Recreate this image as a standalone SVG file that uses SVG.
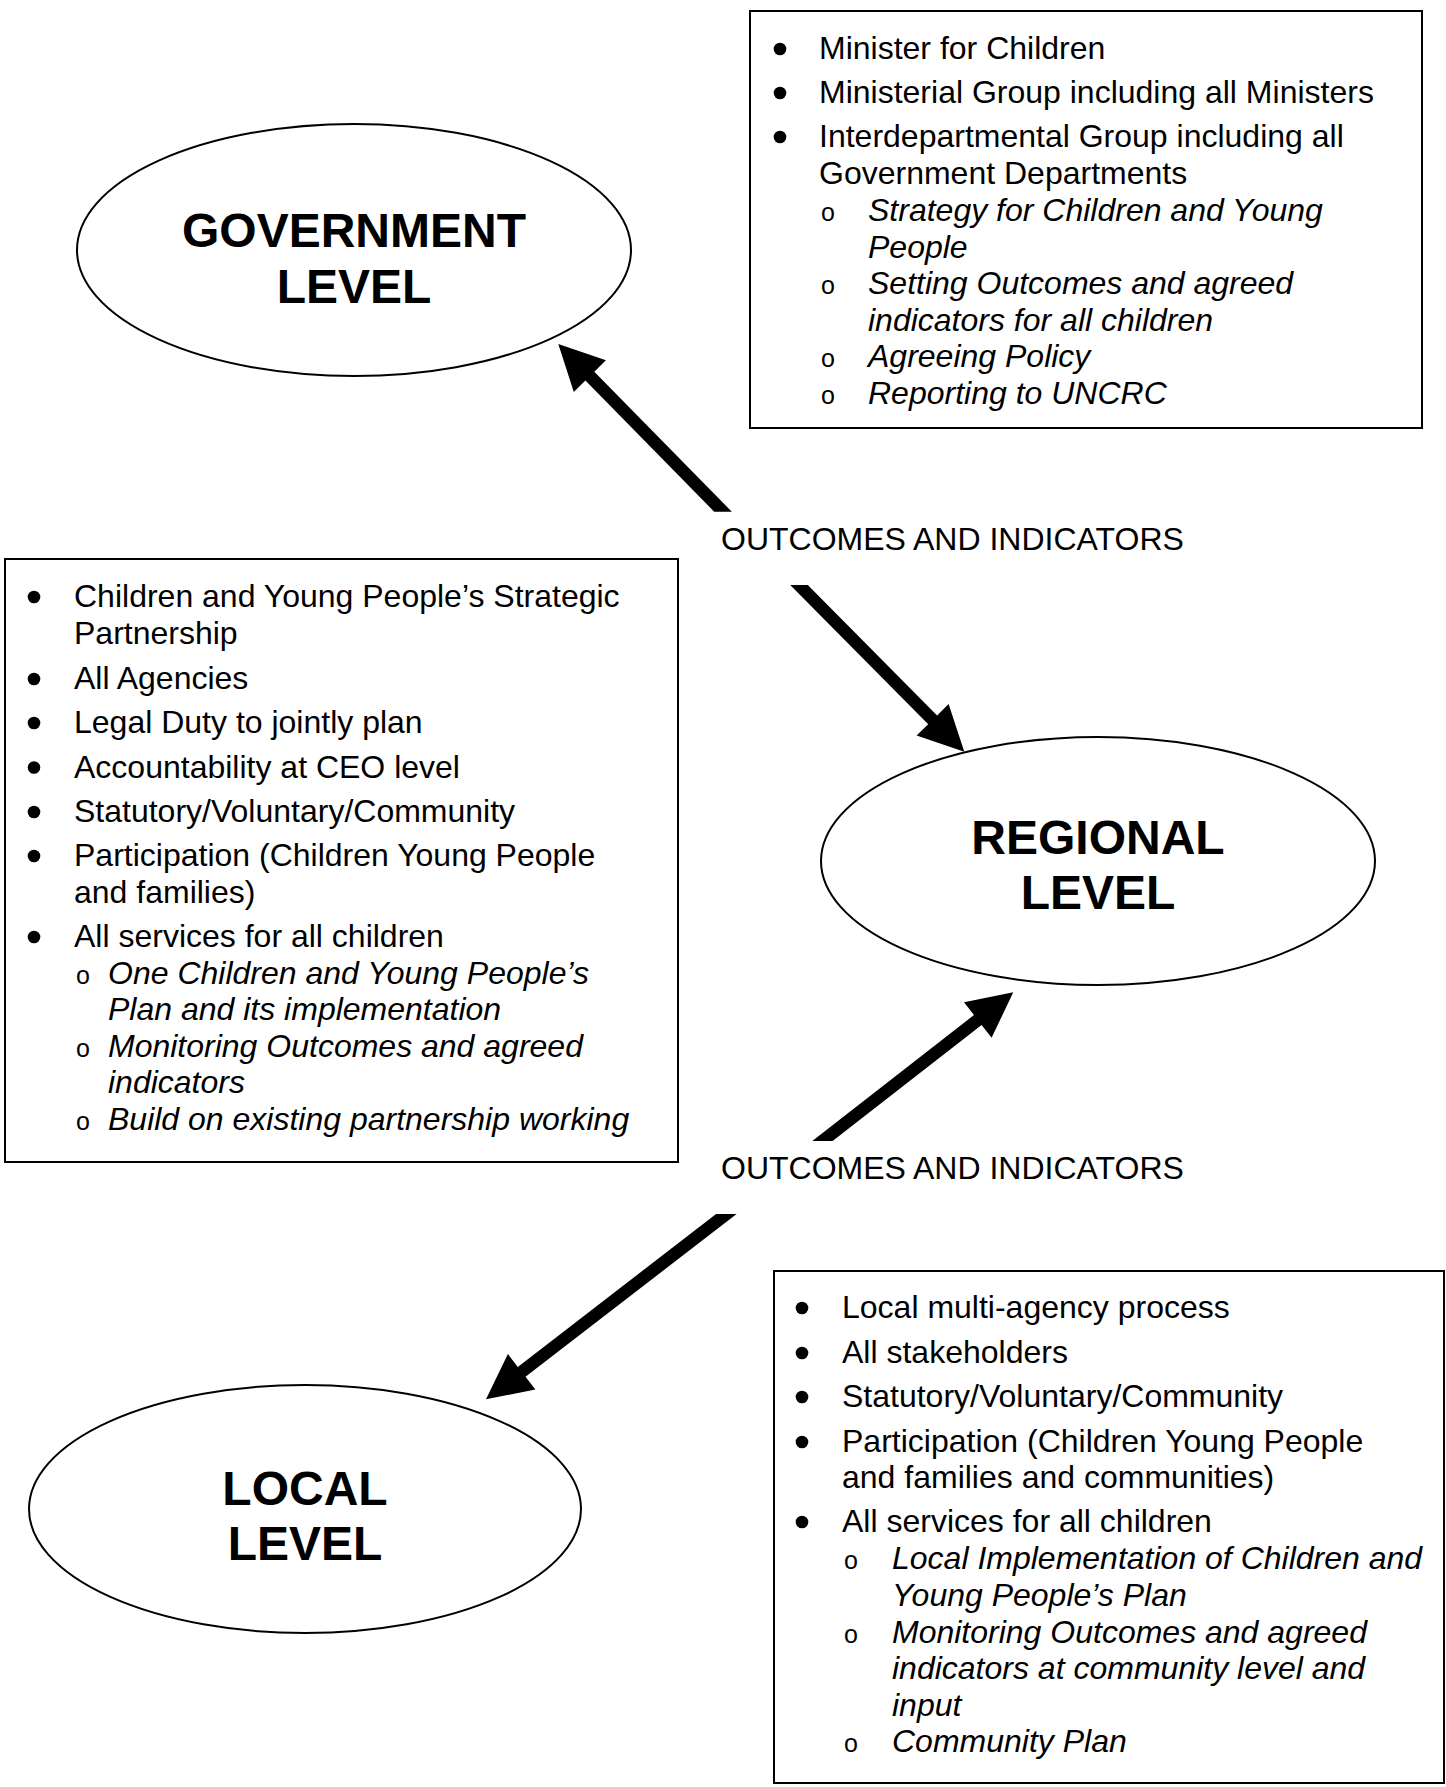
<svg xmlns="http://www.w3.org/2000/svg" width="1446" height="1787" viewBox="0 0 1446 1787">
<style>
.t{font-family:"Liberation Sans",Arial,sans-serif;font-size:32px;fill:#000}
.i{font-style:italic}
.o{text-anchor:middle;font-size:25px}
.h{font-family:"Liberation Sans",Arial,sans-serif;font-weight:bold;font-size:48px;text-anchor:middle;fill:#000}
.box{fill:#fff;stroke:#000;stroke-width:2}
.ell{fill:#fff;stroke:#000;stroke-width:2}
.arr{fill:#000;stroke:none}
</style>
<rect x="0" y="0" width="1446" height="1787" fill="#fff"/>

<g id="government-level">
<ellipse class="ell" cx="354" cy="250" rx="277" ry="126"/>
<text class="h" x="354" y="247">GOVERNMENT</text>
<text class="h" x="354" y="303">LEVEL</text>
</g>

<g id="regional-level">
<ellipse class="ell" cx="1098" cy="861" rx="277" ry="124"/>
<text class="h" x="1098" y="854">REGIONAL</text>
<text class="h" x="1098" y="909">LEVEL</text>
</g>

<g id="local-level">
<ellipse class="ell" cx="305" cy="1509" rx="276" ry="124"/>
<text class="h" x="305" y="1505">LOCAL</text>
<text class="h" x="305" y="1560">LEVEL</text>
</g>

<g id="government-box">
<rect class="box" x="750" y="11" width="672" height="417"/>
<circle cx="780" cy="49" r="6.3"/>
<circle cx="780" cy="93" r="6.3"/>
<circle cx="780" cy="137" r="6.3"/>
<text class="t" x="819" y="59">Minister for Children</text>
<text class="t" x="819" y="103">Ministerial Group including all Ministers</text>
<text class="t" x="819" y="147">Interdepartmental Group including all</text>
<text class="t" x="819" y="184">Government Departments</text>
<text class="t o" x="828" y="221">o</text>
<text class="t i" x="868" y="221">Strategy for Children and Young</text>
<text class="t i" x="868" y="257.5">People</text>
<text class="t o" x="828" y="294">o</text>
<text class="t i" x="868" y="294">Setting Outcomes and agreed</text>
<text class="t i" x="868" y="330.5">indicators for all children</text>
<text class="t o" x="828" y="367">o</text>
<text class="t i" x="868" y="367">Agreeing Policy</text>
<text class="t o" x="828" y="403.5">o</text>
<text class="t i" x="868" y="403.5">Reporting to UNCRC</text>
</g>

<g id="regional-box">
<rect class="box" x="5" y="559" width="673" height="603"/>
<circle cx="34" cy="597" r="6.3"/>
<circle cx="34" cy="679" r="6.3"/>
<circle cx="34" cy="723" r="6.3"/>
<circle cx="34" cy="767.5" r="6.3"/>
<circle cx="34" cy="812" r="6.3"/>
<circle cx="34" cy="856" r="6.3"/>
<circle cx="34" cy="937" r="6.3"/>
<text class="t" x="74" y="607">Children and Young People’s Strategic</text>
<text class="t" x="74" y="644">Partnership</text>
<text class="t" x="74" y="689">All Agencies</text>
<text class="t" x="74" y="733">Legal Duty to jointly plan</text>
<text class="t" x="74" y="777.5">Accountability at CEO level</text>
<text class="t" x="74" y="822">Statutory/Voluntary/Community</text>
<text class="t" x="74" y="866">Participation (Children Young People</text>
<text class="t" x="74" y="902.5">and families)</text>
<text class="t" x="74" y="947">All services for all children</text>
<text class="t o" x="83" y="983.5">o</text>
<text class="t i" x="108" y="983.5">One Children and Young People’s</text>
<text class="t i" x="108" y="1020">Plan and its implementation</text>
<text class="t o" x="83" y="1056.5">o</text>
<text class="t i" x="108" y="1056.5">Monitoring Outcomes and agreed</text>
<text class="t i" x="108" y="1093">indicators</text>
<text class="t o" x="83" y="1129.5">o</text>
<text class="t i" x="108" y="1129.5">Build on existing partnership working</text>
</g>

<g id="local-box">
<rect class="box" x="774" y="1271" width="670" height="512"/>
<circle cx="802" cy="1308" r="6.3"/>
<circle cx="802" cy="1353" r="6.3"/>
<circle cx="802" cy="1397" r="6.3"/>
<circle cx="802" cy="1442" r="6.3"/>
<circle cx="802" cy="1522" r="6.3"/>
<text class="t" x="842" y="1318">Local multi-agency process</text>
<text class="t" x="842" y="1363">All stakeholders</text>
<text class="t" x="842" y="1407">Statutory/Voluntary/Community</text>
<text class="t" x="842" y="1452">Participation (Children Young People</text>
<text class="t" x="842" y="1488">and families and communities)</text>
<text class="t" x="842" y="1532">All services for all children</text>
<text class="t o" x="851" y="1569">o</text>
<text class="t i" x="892" y="1569">Local Implementation of Children and</text>
<text class="t i" x="892" y="1606">Young People’s Plan</text>
<text class="t o" x="851" y="1643">o</text>
<text class="t i" x="892" y="1643">Monitoring Outcomes and agreed</text>
<text class="t i" x="892" y="1679">indicators at community level and</text>
<text class="t i" x="892" y="1716">input</text>
<text class="t o" x="851" y="1752">o</text>
<text class="t i" x="892" y="1752">Community Plan</text>
</g>

<g id="connectors">
<polygon class="arr" points="558.3,344 605.9,360.3 594.3,371.7 731.8,511.7 714.2,511.7 585.4,380.5 573.8,391.9"/>
<polygon class="arr" points="964.3,751.7 916.6,735.6 928.2,724.2 790.2,585 807.8,585 937.1,715.4 948.6,703.9"/>
<polygon class="arr" points="1013.3,992.3 991.6,1037.7 981.6,1024.9 832.6,1141 812.3,1141 974.0,1015.0 964.0,1002.2"/>
<polygon class="arr" points="486,1399.3 507.9,1354.0 517.8,1366.9 716.1,1214 736.6,1214 525.5,1376.8 535.4,1389.6"/>
<text class="t" x="721" y="550">OUTCOMES AND INDICATORS</text>
<text class="t" x="721" y="1179">OUTCOMES AND INDICATORS</text>
</g>
</svg>
